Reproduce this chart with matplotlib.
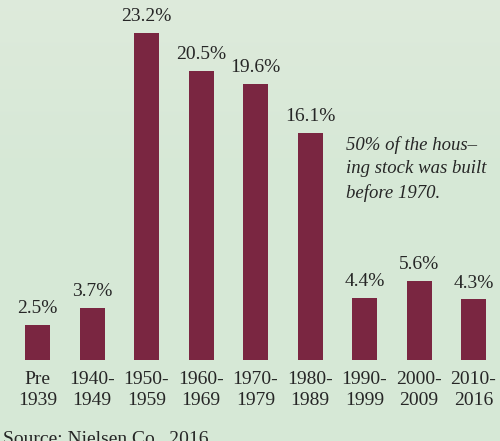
import numpy as np
import matplotlib
matplotlib.use("Agg")
import matplotlib.pyplot as plt

# data
periods = ["Pre\n1939", "1940-\n1949", "1950-\n1959", "1960-\n1969", "1970-\n1979",
           "1980-\n1989", "1990-\n1999", "2000-\n2009", "2010-\n2016"]
shares = [2.5, 3.7, 23.2, 20.5, 19.6, 16.1, 4.4, 5.6, 4.3]
note_lines = ["50% of the hous\u2013", "ing stock was built", "before 1970."]
source = "Source: Nielsen Co., 2016"

bar_color = "#7a2641"
text_color = "#262626"
plt.rcParams["font.family"] = ["Liberation Serif", "DejaVu Serif"]

fig = plt.figure(figsize=(5, 4.41), dpi=100)

# soft paper-like background
bg = fig.add_axes([0, 0, 1, 1], zorder=0)
grad = np.linspace(0, 1, 256).reshape(-1, 1)
top_c = np.array([0.87, 0.92, 0.86])
bot_c = np.array([0.84, 0.91, 0.84])
img = top_c + (bot_c - top_c) * np.clip(grad * 2.5, 0, 1)[..., None]
bg.imshow(img.reshape(256, 1, 3), aspect="auto", extent=[0, 1, 0, 1])
bg.axis("off")

px_per_pct = 14.09
base = 360  # baseline pixel from top
ax = fig.add_axes([0, (441 - base) / 441, 1, base / 441], zorder=1)
ax.patch.set_alpha(0)
x = np.arange(len(shares))
step = 54.5
ax.set_xlim(-37.5 / step, (500 - 37.5) / step)
ax.set_ylim(0, base / px_per_pct)
ax.bar(x, shares, width=25 / step, color=bar_color)

for xi, v in zip(x, shares):
    ax.text(xi, v + 0.55, f"{v}%", ha="center", va="bottom",
            fontsize=14, color=text_color)

ax.set_xticks(x)
ax.set_xticklabels(periods, fontsize=14, color=text_color, linespacing=1.3)
ax.tick_params(axis="x", length=0, pad=8)
ax.set_yticks([])
for s in ax.spines.values():
    s.set_visible(False)

ax.text((346 - 37.5) / step, (base - 136) / px_per_pct, "\n".join(note_lines),
        ha="left", va="top", fontsize=13.5, style="italic", color=text_color,
        linespacing=1.5)

fig.text(0.006, -0.004, source, ha="left", va="baseline", fontsize=14,
         color=text_color)

fig.savefig("out.png", dpi=100)
